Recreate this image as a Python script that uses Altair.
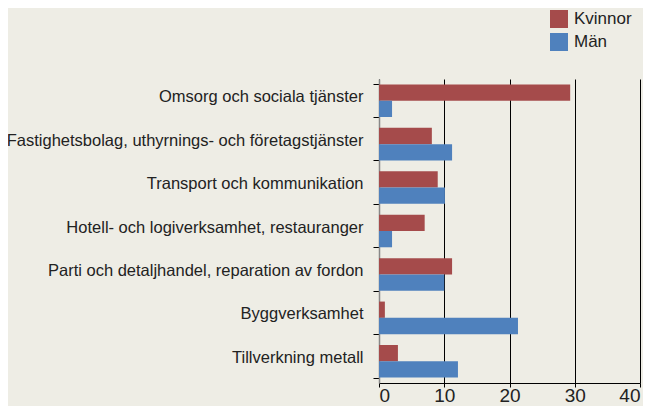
import altair as alt
import pandas as pd

categories = [
    "Omsorg och sociala tjänster",
    "Fastighetsbolag, uthyrnings- och företagstjänster",
    "Transport och kommunikation",
    "Hotell- och logiverksamhet, restauranger",
    "Parti och detaljhandel, reparation av fordon",
    "Byggverksamhet",
    "Tillverkning metall",
]
kvinnor = [29.3, 8.1, 9.0, 7.0, 11.2, 0.9, 2.9]
man = [2.0, 11.2, 10.1, 2.0, 10.0, 21.3, 12.1]
series = ["Kvinnor", "Män"]
colors = ["#a54b4b", "#4f81bd"]

rows = []
for c, k, m in zip(categories, kvinnor, man):
    rows.append({"kategori": c, "kon": series[0], "andel": k})
    rows.append({"kategori": c, "kon": series[1], "andel": m})
df = pd.DataFrame(rows)

font = "Liberation Sans"

chart = alt.Chart(df).mark_bar().encode(
    x=alt.X("andel:Q",
            scale=alt.Scale(domain=[0, 40], nice=False),
            axis=alt.Axis(values=[0, 10, 20, 30, 40], title=None, grid=True,
                          gridColor="#000000", gridWidth=1, gridOpacity=1,
                          domainColor="#000000", tickColor="#000000", tickSize=4,
                          labelFontSize=19, labelColor="#222222", labelFont=font,
                          labelPadding=-1)),
    y=alt.Y("kategori:N", sort=categories,
            scale=alt.Scale(paddingInner=0.25, paddingOuter=0.125),
            axis=alt.Axis(title=None, tickBand="extent", tickSize=6,
                          tickColor="#000000", domainColor="#888888", domainWidth=1.5,
                          labelFontSize=16.5, labelColor="#222222", labelFont=font,
                          labelPadding=10, labelLimit=400, labelOffset=-4)),
    yOffset=alt.YOffset("kon:N", sort=series),
    color=alt.Color("kon:N", sort=series,
                    scale=alt.Scale(domain=series, range=colors),
                    legend=alt.Legend(title=None, orient="none", legendX=171, legendY=-69,
                                      symbolType="square", symbolSize=324,
                                      symbolStrokeWidth=0, symbolOpacity=1,
                                      labelFontSize=17, labelFont=font,
                                      labelColor="#222222", rowPadding=5,
                                      labelOffset=6)),
).properties(
    width=261, height=304,
    background="#eeede5",
    padding={"left": 371, "top": 71, "right": 3, "bottom": 23},
    autosize=alt.AutoSizeParams(type="none"),
).configure_view(stroke=None)

chart.save("out.html", embed_options={"renderer": "svg", "actions": False})
